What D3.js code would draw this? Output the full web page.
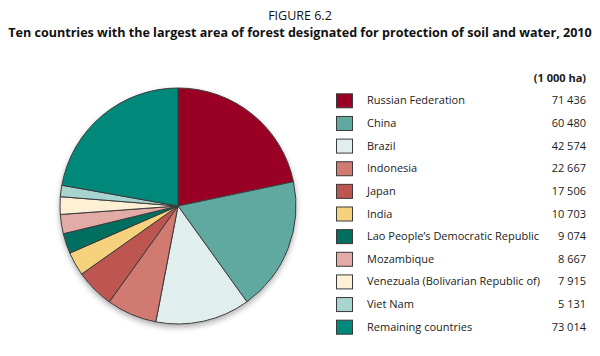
<!DOCTYPE html>
<html><head><meta charset="utf-8">
<script src="https://cdn.jsdelivr.net/npm/d3@7"></script>
<style>body{margin:0;background:#fff}svg{display:block}</style>
</head><body>
<svg id="chart" width="600" height="356"></svg>
<script>
const categories = ["Russian Federation","China","Brazil","Indonesia","Japan","India","Lao People\u2019s Democratic Republic","Mozambique","Venezuala (Bolivarian Republic of)","Viet Nam","Remaining countries"];
const values = [71436,60480,42574,22667,17506,10703,9074,8667,7915,5131,73014];
const valueLabels = ["71 436","60 480","42 574","22 667","17 506","10 703","9 074","8 667","7 915","5 131","73 014"];
const colors = ["#9a0024","#5fa9a0","#e1eeee","#d07a72","#bd5650","#f6d27e","#006f5f","#e2aba5","#fdf0d4","#a8d4cf","#00887a"];
const titleLines = ["FIGURE 6.2","Ten countries with the largest area of forest designated for protection of soil and water, 2010"];
const unitLabel = "(1 000 ha)";

const svg = d3.select("#chart");
const font = "'Open Sans', 'Noto Sans', sans-serif";

svg.append("text").attr("x",300).attr("y",20).attr("text-anchor","middle")
  .attr("font-family",font).attr("font-size",12.5).attr("fill","#111").text(titleLines[0]);
const t2 = svg.append("text").attr("x",300).attr("y",37).attr("text-anchor","middle")
  .attr("font-family",font).attr("font-size",13).attr("font-weight","bold").attr("fill","#111")
  .text(titleLines[1]);
const w = t2.node().getComputedTextLength();
if (w > 584) t2.attr("font-size", 13 * 584 / w);

const defs = svg.append("defs");
const f = defs.append("filter").attr("id","shadow").attr("x","-20%").attr("y","-20%").attr("width","140%").attr("height","140%");
f.append("feGaussianBlur").attr("in","SourceAlpha").attr("stdDeviation",3);
f.append("feOffset").attr("dx",0).attr("dy",3).attr("result","b");
f.append("feComponentTransfer").append("feFuncA").attr("type","linear").attr("slope",0.35);
const m = f.append("feMerge"); m.append("feMergeNode"); m.append("feMergeNode").attr("in","SourceGraphic");

const cx = 178, cy = 206, r = 118;
const pie = d3.pie().sort(null).value(d=>d);
const arc = d3.arc().innerRadius(0).outerRadius(r);
const g = svg.append("g").attr("transform",`translate(${cx},${cy})`);
g.append("circle").attr("r",r).attr("fill","#fff").attr("filter","url(#shadow)");
g.selectAll("path").data(pie(values)).join("path")
  .attr("d",arc).attr("fill",(d,i)=>colors[i])
  .attr("stroke","#3a3a3a").attr("stroke-width",1).attr("stroke-linejoin","round");

const y = d3.scaleBand().domain(categories).range([89,338]).paddingInner(0);
svg.append("text").attr("x",586).attr("y",82).attr("text-anchor","end")
  .attr("font-family",font).attr("font-size",11).attr("font-weight","bold").attr("fill","#1a1a1a").text(unitLabel);
const rows = svg.selectAll("g.row").data(categories).join("g").attr("class","row")
  .attr("transform",d=>`translate(0,${y(d)+y.bandwidth()/2})`);
rows.append("rect").attr("x",336.5).attr("y",-6.5).attr("width",16).attr("height",14)
  .attr("fill",(d,i)=>colors[i]).attr("stroke","#3a3a3a").attr("stroke-width",1);
rows.append("text").attr("x",367).attr("y",4).attr("font-family",font).attr("font-size",11)
  .attr("fill","#1a1a1a").text(d=>d);
rows.append("text").attr("x",586).attr("y",4).attr("text-anchor","end").attr("font-family",font).attr("font-size",11)
  .attr("fill","#1a1a1a").text((d,i)=>valueLabels[i]);
</script>
</body></html>
